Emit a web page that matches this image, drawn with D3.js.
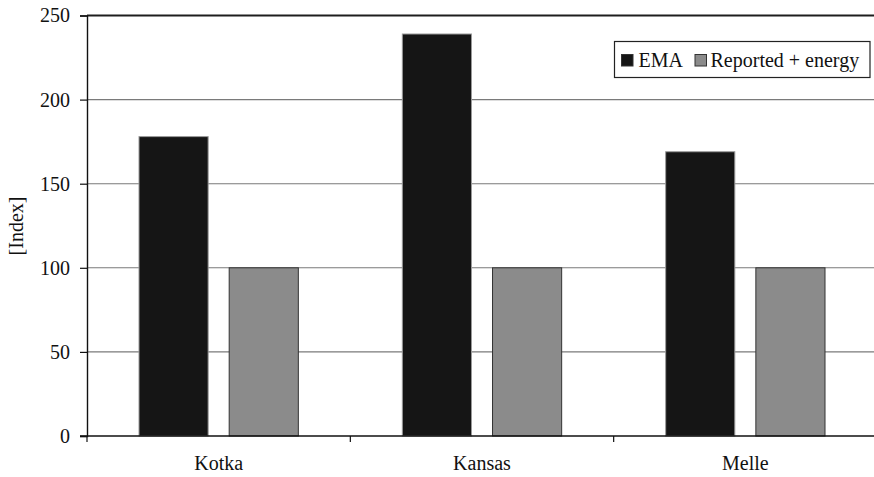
<!DOCTYPE html>
<html>
<head>
<meta charset="utf-8">
<script src="https://cdn.jsdelivr.net/npm/d3@7"></script>
</head>
<body style="margin:0">
<svg id="chart" width="874" height="477"></svg>
<script>
// Sites and series
const sites = ["Kotka", "Kansas", "Melle"];
const seriesNames = ["EMA", "Reported + energy"];
const emaValues = [178, 239, 169];
const reportedValues = [100, 100, 100];
const yTicks = [0, 50, 100, 150, 200, 250];
const seriesColors = ["#151515", "#8b8b8b"];
const seriesStrokes = ["#9a9a9a", "#333333"];
const serifFamily = "Liberation Serif";
const fontCss = `"${serifFamily}"`;

const rows = sites.map((s, i) => ({ site: s, values: [emaValues[i], reportedValues[i]] }));

const svg = d3.select("#chart");
const plotLeft = 87, plotRight = 877, plotTop = 15.5, plotBottom = 436;

const x0 = d3.scaleBand().domain(sites).range([plotLeft, plotRight]).padding(0);
const x1 = d3.scaleBand().domain(seriesNames)
  .range([51.5, x0.bandwidth() - 51.5]).paddingInner(0.2222).paddingOuter(0);
const y = d3.scaleLinear().domain([0, 250]).range([plotBottom, plotTop]);

// Horizontal gridlines
svg.append("g").selectAll("line").data(yTicks.filter(t => t > 0)).join("line")
  .attr("x1", plotLeft).attr("x2", 874)
  .attr("y1", d => y(d)).attr("y2", d => y(d))
  .attr("stroke", d => d === 250 ? "#1e1e1e" : "#7a7a7a")
  .attr("stroke-width", d => d === 250 ? 1.8 : 1.1);

// Bars
const groups = svg.append("g").selectAll("g").data(rows).join("g")
  .attr("transform", d => `translate(${x0(d.site)},0)`);
groups.selectAll("rect").data(d => d.values.map((v, i) => ({ key: seriesNames[i], v, i }))).join("rect")
  .attr("x", d => x1(d.key) + 0.5)
  .attr("width", x1.bandwidth() - 1)
  .attr("y", d => y(d.v))
  .attr("height", d => y(0) - y(d.v))
  .attr("fill", d => seriesColors[d.i])
  .attr("stroke", d => seriesStrokes[d.i])
  .attr("stroke-width", 1);

// Y axis
const yAxis = d3.axisLeft(y).tickValues(yTicks).tickSize(7).tickPadding(10);
const gy = svg.append("g").attr("transform", `translate(${plotLeft},0)`).call(yAxis);
gy.attr("font-family", null).attr("font-size", null);
gy.select(".domain").attr("stroke", "#111").attr("stroke-width", 1.4);
gy.selectAll(".tick line").attr("stroke", "#111").attr("stroke-width", 1.2);
gy.selectAll(".tick text").attr("fill", "#111").attr("font-size", 20)
  .style("font-family", fontCss);

// X axis line with ticks at the category boundaries
const gx = svg.append("g");
gx.append("line").attr("x1", plotLeft - 7).attr("x2", 874).attr("y1", plotBottom).attr("y2", plotBottom)
  .attr("stroke", "#111").attr("stroke-width", 1.4);
gx.selectAll("line.bt").data(sites).join("line").attr("class", "bt")
  .attr("x1", d => x0(d)).attr("x2", d => x0(d))
  .attr("y1", plotBottom).attr("y2", plotBottom + 6)
  .attr("stroke", "#111").attr("stroke-width", 1.2);
gx.selectAll("text").data(sites).join("text")
  .attr("x", d => x0(d) + x0.bandwidth() / 2)
  .attr("y", 470)
  .attr("text-anchor", "middle")
  .attr("font-size", 20).attr("fill", "#111")
  .style("font-family", fontCss)
  .text(d => d);

// Y axis title
svg.append("text")
  .attr("transform", `translate(23,226) rotate(-90)`)
  .attr("text-anchor", "middle")
  .attr("font-size", 20).attr("fill", "#111")
  .style("font-family", fontCss)
  .text("[Index]");

// Legend
const lg = svg.append("g").attr("transform", "translate(614.5,41.5)");
lg.append("rect").attr("width", 255.5).attr("height", 36)
  .attr("fill", "#fff").attr("stroke", "#222").attr("stroke-width", 1.2);
const legendItems = [
  { name: seriesNames[0], sx: 7, tx: 24 },
  { name: seriesNames[1], sx: 80.5, tx: 96 }
];
legendItems.forEach((it, i) => {
  lg.append("rect").attr("x", it.sx).attr("y", 13).attr("width", 11.5).attr("height", 11.5)
    .attr("fill", seriesColors[i]).attr("stroke", "#333").attr("stroke-width", 1);
  lg.append("text").attr("x", it.tx).attr("y", 25.5)
    .attr("font-size", 20).attr("fill", "#111")
    .style("font-family", fontCss)
    .text(it.name);
});
</script>
</body>
</html>
